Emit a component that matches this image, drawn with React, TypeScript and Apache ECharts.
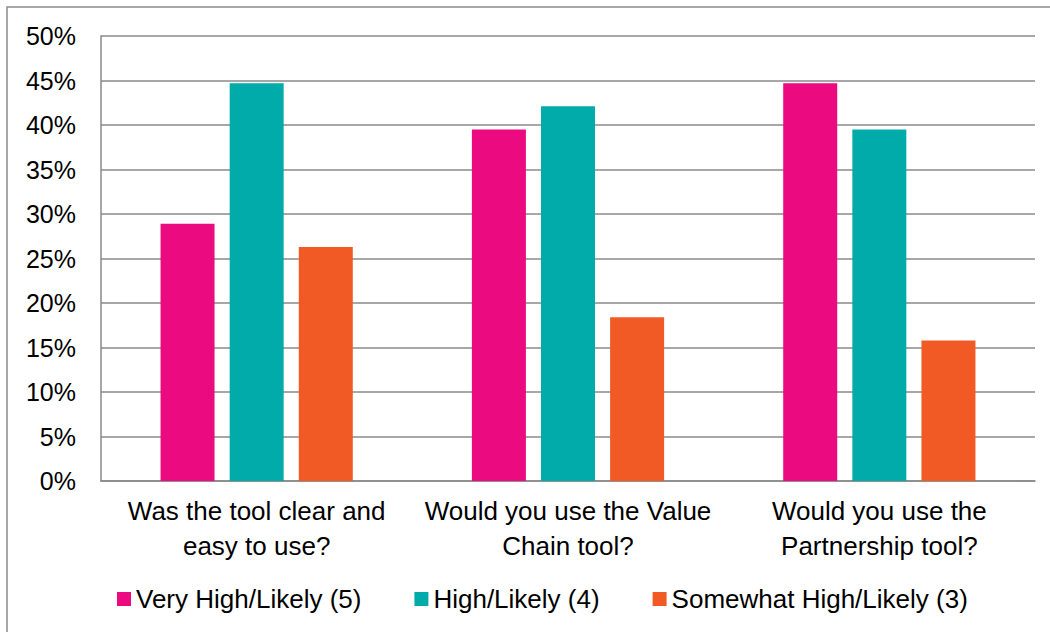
import React, { useEffect, useRef } from "react";
import * as echarts from "echarts";

const categories = [
  "Was the tool clear and\neasy to use?",
  "Would you use the Value\nChain tool?",
  "Would you use the\nPartnership tool?",
];
const seriesNames = ["Very High/Likely (5)", "High/Likely (4)", "Somewhat High/Likely (3)"];
const veryHigh = [28.9, 39.5, 44.7];
const high = [44.7, 42.1, 39.5];
const somewhat = [26.3, 18.4, 15.8];
const colors = ["#EC0A80", "#00ABA9", "#F15A24"];

export default function App() {
  const ref = useRef<HTMLDivElement>(null);
  useEffect(() => {
    if (!ref.current) return;
    const chart = echarts.init(ref.current, undefined, { renderer: "svg" });
    const font = "Liberation Sans, Arial, sans-serif";
    const data = [veryHigh, high, somewhat];
    chart.setOption({
      animation: false,
      backgroundColor: "#ffffff",
      textStyle: { fontFamily: font },
      graphic: [
        {
          type: "rect",
          shape: { x: 7, y: 7, width: 1100, height: 700 },
          style: { fill: "none", stroke: "#8c8c8c", lineWidth: 1.5 },
          silent: true,
        },
      ],
      grid: { left: 101, right: 15, top: 36, bottom: 151, containLabel: false },
      legend: {
        left: 112,
        top: 581,
        itemWidth: 14,
        itemHeight: 14,
        itemGap: 53,
        icon: "rect",
        textStyle: { fontSize: 26, color: "#000", fontFamily: font },
        data: seriesNames,
      },
      xAxis: {
        type: "category",
        data: categories,
        axisLine: { lineStyle: { color: "#888", width: 1.5 } },
        axisTick: { show: false },
        axisLabel: {
          fontSize: 26,
          color: "#000",
          lineHeight: 35,
          margin: 12,
          interval: 0,
          fontFamily: font,
        },
      },
      yAxis: {
        type: "value",
        min: 0,
        max: 50,
        interval: 5,
        axisLine: { show: true, lineStyle: { color: "#888", width: 1.5 } },
        axisTick: { show: false },
        splitLine: { lineStyle: { color: "#8a8a8a", width: 1.5 } },
        axisLabel: {
          formatter: "{value}%",
          fontSize: 25,
          color: "#000",
          margin: 25,
          fontFamily: font,
        },
      },
      series: seriesNames.map((name, i) => ({
        name,
        type: "bar",
        data: data[i],
        barWidth: 54,
        barGap: "28%",
        itemStyle: { color: colors[i] },
      })),
    });
    return () => chart.dispose();
  }, []);
  return (
    <div
      ref={ref}
      style={{ position: "fixed", left: 0, top: 0, width: 1050, height: 632 }}
    />
  );
}
